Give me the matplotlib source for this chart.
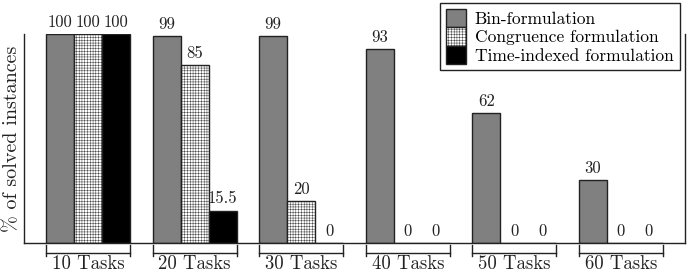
import numpy as np
import matplotlib
matplotlib.use('Agg')
import matplotlib.pyplot as plt
from matplotlib.patches import Patch

plt.rcParams['font.family'] = ['cmr10', 'DejaVu Serif']
plt.rcParams['axes.formatter.use_mathtext'] = True
plt.rcParams['hatch.linewidth'] = 0.3

groups = ['10 Tasks', '20 Tasks', '30 Tasks', '40 Tasks', '50 Tasks', '60 Tasks']
series = ['Bin-formulation', 'Congruence formulation', 'Time-indexed formulation']
bin_form = [100, 99, 99, 93, 62, 30]
congruence = [100, 85, 20, 0, 0, 0]
time_indexed = [100, 15.5, 0, 0, 0, 0]

values = [bin_form, congruence, time_indexed]
faces = ['#808080', 'white', 'black']
hatches = [None, '++++++', None]
ink = '#222222'

fig = plt.figure(figsize=(6.88, 2.73), dpi=100)
ax = fig.add_axes([0.035, 0.11, 0.9605, 0.765])

x = np.arange(len(groups))
w = 0.263
for i, vals in enumerate(values):
    bars = ax.bar(x + (i - 1) * w, vals, w, color=faces[i], edgecolor=ink,
                  linewidth=1.0, hatch=hatches[i], label=series[i])
    ax.bar_label(bars, labels=[f'{v:g}' for v in vals], padding=3, fontsize=12,
                 color=ink, clip_on=False)

ax.set_xlim(-0.6, len(groups) - 0.4)
ax.set_ylim(0, 100)
ax.set_xticks([])
ax.set_yticks([])
ax.spines['top'].set_visible(False)
for s in ax.spines.values():
    s.set_linewidth(1.0)
    s.set_color(ink)

# group brackets under the axis
for xi, g in zip(x, groups):
    l, r = xi - 1.5 * w, xi + 1.5 * w
    ax.plot([l, r], [-4.6, -4.6], color=ink, lw=1.0, clip_on=False)
    ax.plot([l, l], [-1, -6.3], color=ink, lw=1.0, clip_on=False)
    ax.plot([r, r], [-1, -6.3], color=ink, lw=1.0, clip_on=False)
    ax.text(xi, -14.3, g, ha='center', va='bottom', fontsize=13.5, color=ink)

ax.set_ylabel('% of solved instances', fontsize=14.5, color=ink, labelpad=2)

handles = [Patch(facecolor=faces[i], edgecolor=ink, hatch=hatches[i]) for i in range(3)]
leg = fig.legend(handles, series, loc='upper right', bbox_to_anchor=(0.988, 0.99),
                 fontsize=12.6, frameon=True, fancybox=False, edgecolor=ink,
                 framealpha=1, labelspacing=0.0, handlelength=1.15, handleheight=1.25,
                 handletextpad=0.5, borderpad=0.35, borderaxespad=0)
leg.get_frame().set_linewidth(1.0)

fig.savefig('out.png', dpi=100)
